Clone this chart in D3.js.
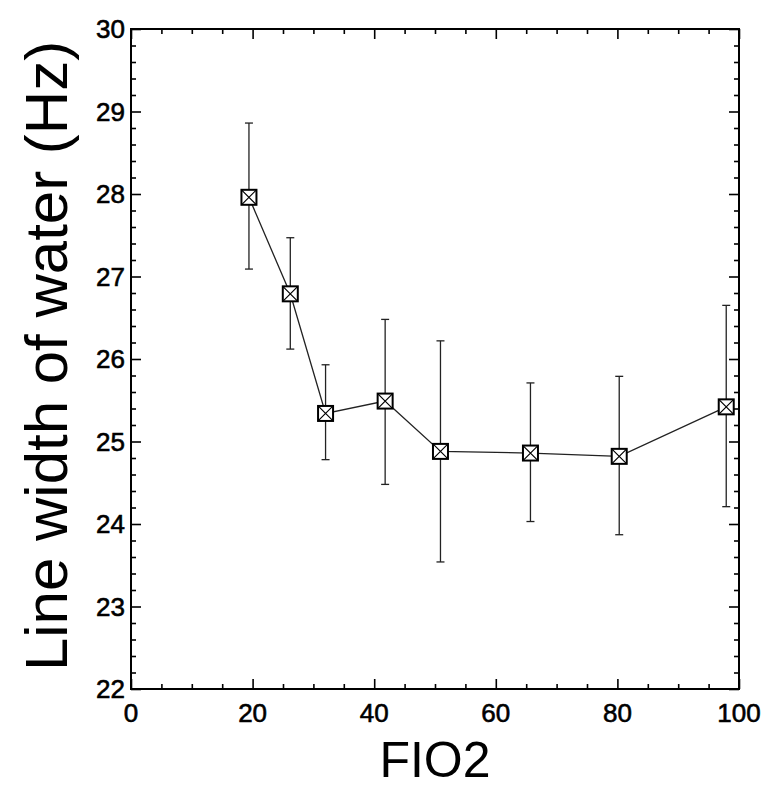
<!DOCTYPE html>
<html>
<head>
<meta charset="utf-8">
<script src="https://cdn.jsdelivr.net/npm/d3@7.9.0/dist/d3.min.js"></script>
<style>
  body { margin: 0; background: #fff; }
  text { font-family: "Liberation Sans", Arial, sans-serif; fill: #000; }
</style>
</head>
<body>
<svg id="chart" width="769" height="789"></svg>
<script>
// FIO2 values and measured line width (Hz), with error bar ends
const fio2 = [19.4, 26.2, 32.0, 41.8, 50.9, 65.7, 80.3, 97.9];
const lineWidth = [27.96, 26.79, 25.34, 25.49, 24.88, 24.86, 24.82, 25.42];
const errLow = [27.09, 26.12, 24.78, 24.48, 23.54, 24.03, 23.87, 24.21];
const errHigh = [28.86, 27.47, 25.93, 26.48, 26.22, 25.71, 25.79, 26.65];

const xTicks = [0, 20, 40, 60, 80, 100];
const yTicks = [22, 23, 24, 25, 26, 27, 28, 29, 30];

const data = fio2.map((x, i) => ({
  x,
  y: lineWidth[i],
  lo: errLow[i],
  hi: errHigh[i]
}));

const svg = d3.select("#chart");
const area = { left: 131, right: 739, top: 29, bottom: 689 };

const x = d3.scaleLinear().domain([0, 100]).range([area.left, area.right]);
const y = d3.scaleLinear().domain([22, 30]).range([area.bottom, area.top]);

const minorX = d3.range(0, 101, 5).filter((v) => v % 20 !== 0);
const minorY = d3.range(22, 30.001, 0.2)
  .map((v) => +v.toFixed(1))
  .filter((v) => Math.abs(v - Math.round(v)) > 0.01);

// inward ticks on all four sides
const addTicks = (axisFn, scale, values, size, transform) => {
  svg.append("g")
    .attr("transform", transform)
    .call(axisFn(scale).tickValues(values).tickSize(size).tickFormat(""))
    .call((g) => g.select(".domain").remove())
    .call((g) => g.selectAll(".tick line").attr("stroke", "#000").attr("stroke-width", 1.6));
};

addTicks(d3.axisBottom, x, xTicks, -10, `translate(0,${area.bottom})`);
addTicks(d3.axisBottom, x, minorX, -5, `translate(0,${area.bottom})`);
addTicks(d3.axisTop, x, xTicks, -10, `translate(0,${area.top})`);
addTicks(d3.axisTop, x, minorX, -5, `translate(0,${area.top})`);
addTicks(d3.axisLeft, y, yTicks, -10, `translate(${area.left},0)`);
addTicks(d3.axisLeft, y, minorY, -5, `translate(${area.left},0)`);
addTicks(d3.axisRight, y, yTicks, -10, `translate(${area.right},0)`);
addTicks(d3.axisRight, y, minorY, -5, `translate(${area.right},0)`);

// frame
svg.append("rect")
  .attr("x", area.left)
  .attr("y", area.top)
  .attr("width", area.right - area.left)
  .attr("height", area.bottom - area.top)
  .attr("fill", "none")
  .attr("stroke", "#000")
  .attr("stroke-width", 2);

// tick labels, slightly heavier like the scanned original
svg.append("g")
  .selectAll("text")
  .data(xTicks)
  .join("text")
  .attr("x", (d) => x(d))
  .attr("y", area.bottom + 33)
  .attr("text-anchor", "middle")
  .attr("font-size", 26)
  .attr("stroke", "#000")
  .attr("stroke-width", 0.6)
  .text((d) => d);

svg.append("g")
  .selectAll("text")
  .data(yTicks)
  .join("text")
  .attr("x", area.left - 6)
  .attr("y", (d) => y(d) + 9)
  .attr("text-anchor", "end")
  .attr("font-size", 26)
  .attr("stroke", "#000")
  .attr("stroke-width", 0.6)
  .text((d) => d);

// axis titles
svg.append("text")
  .attr("x", 435)
  .attr("y", 777)
  .attr("text-anchor", "middle")
  .attr("font-size", 50)
  .text("FIO2");

svg.append("text")
  .attr("transform", `translate(67,356) rotate(-90)`)
  .attr("text-anchor", "middle")
  .attr("font-size", 60)
  .text("Line width of water (Hz)");

// connecting line
svg.append("path")
  .datum(data)
  .attr("fill", "none")
  .attr("stroke", "#222")
  .attr("stroke-width", 1.3)
  .attr("d", d3.line().x((d) => x(d.x)).y((d) => y(d.y)));

// error bars
const bars = svg.append("g")
  .attr("stroke", "#222")
  .attr("stroke-width", 1.3)
  .selectAll("g")
  .data(data)
  .join("g");

bars.append("line")
  .attr("x1", (d) => x(d.x))
  .attr("x2", (d) => x(d.x))
  .attr("y1", (d) => y(d.lo))
  .attr("y2", (d) => y(d.hi));

bars.append("line")
  .attr("x1", (d) => x(d.x) - 4)
  .attr("x2", (d) => x(d.x) + 4)
  .attr("y1", (d) => y(d.hi))
  .attr("y2", (d) => y(d.hi));

bars.append("line")
  .attr("x1", (d) => x(d.x) - 4)
  .attr("x2", (d) => x(d.x) + 4)
  .attr("y1", (d) => y(d.lo))
  .attr("y2", (d) => y(d.lo));

// boxed-cross markers
const s = 7.5;
const markers = svg.append("g")
  .selectAll("g")
  .data(data)
  .join("g")
  .attr("transform", (d) => `translate(${x(d.x)},${y(d.y)})`);

markers.append("rect")
  .attr("x", -s)
  .attr("y", -s)
  .attr("width", 2 * s)
  .attr("height", 2 * s)
  .attr("fill", "#fff")
  .attr("stroke", "#000")
  .attr("stroke-width", 2);

markers.append("path")
  .attr("d", `M${-s},${-s}L${s},${s}M${s},${-s}L${-s},${s}`)
  .attr("stroke", "#000")
  .attr("stroke-width", 1.2);
</script>
</body>
</html>
